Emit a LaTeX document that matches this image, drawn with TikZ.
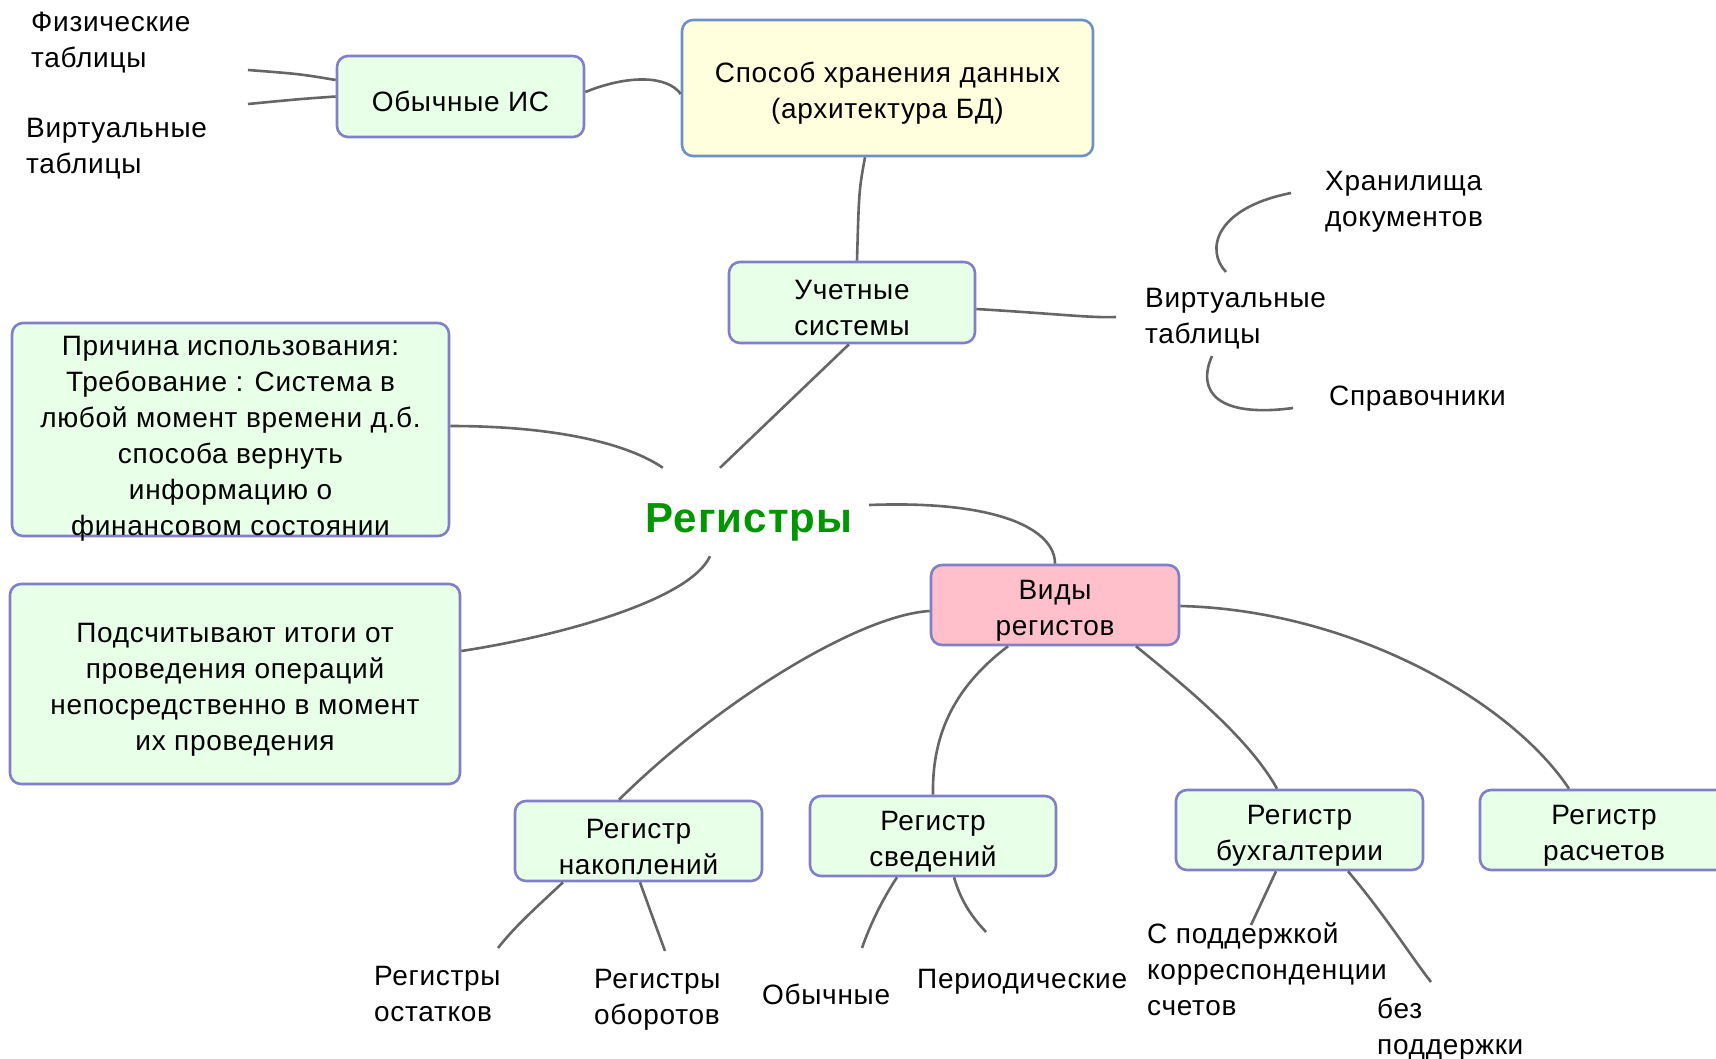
\documentclass[tikz,border=0pt]{standalone}
\usepackage{fontspec}
\setmainfont{Liberation Sans}[LetterSpace=2.5]
\definecolor{boxgreen}{RGB}{232,255,232}
\definecolor{boxblue}{RGB}{128,128,200}
\definecolor{yfill}{RGB}{255,255,222}
\definecolor{yborder}{RGB}{110,145,195}
\definecolor{pinkfill}{RGB}{255,192,204}
\definecolor{conngray}{RGB}{102,102,102}
\definecolor{reggreen}{RGB}{0,150,0}
\newcommand\firstlinestrut{\rule{0pt}{31pt}}
\begin{document}
\begin{tikzpicture}[x=1pt,y=-1pt,
  every node/.style={font=\fontsize{28}{36}\selectfont},
  box/.style={draw, line width=2.6pt, rounded corners=11pt, align=center, inner sep=0pt},
  gbox/.style={box, draw=boxblue, fill=boxgreen},
  lbl/.style={anchor=west, align=left, inner sep=0pt},
  conn/.style={draw=conngray, line width=2.6pt}
]
\useasboundingbox (0,0) rectangle (1716,1058);
\clip (0,0) rectangle (1716,1058);

% boxes
\node[box, draw=yborder, fill=yfill, minimum width=411pt, minimum height=136pt] (sposob) at (887.5,88) {\firstlinestrut Способ хранения данных\\(архитектура БД)};
\node[gbox, minimum width=247pt, minimum height=81pt] (obis) at (460.5,96.5) {\firstlinestrut Обычные ИС};
\node[gbox, minimum width=246pt, minimum height=81pt] (uch) at (852,302.5) {\firstlinestrut Учетные\\системы};
\node[gbox, minimum width=437pt, minimum height=213pt, text depth=0pt] (prich) at (230.5,429.5) {\firstlinestrut Причина использования:\\Требование : Система в\\любой момент времени д.б.\\способа вернуть\\информацию о\\финансовом состоянии};
\node[gbox, minimum width=450pt, minimum height=200pt] (podsch) at (235,684) {\firstlinestrut Подсчитывают итоги от\\проведения операций\\непосредственно в момент\\их проведения};
\node[box, draw=boxblue, fill=pinkfill, minimum width=248pt, minimum height=80pt] (vidy) at (1055,605) {\firstlinestrut Виды\\регистов};
\node[gbox, minimum width=247pt, minimum height=80pt] (nak) at (638.5,841) {\firstlinestrut Регистр\\накоплений};
\node[gbox, minimum width=246pt, minimum height=80pt] (sved) at (933,836) {\firstlinestrut Регистр\\сведений};
\node[gbox, minimum width=247pt, minimum height=80pt] (buh) at (1299.5,830) {\firstlinestrut Регистр\\бухгалтерии};
\node[gbox, minimum width=248pt, minimum height=80pt] (ras) at (1604,830) {\firstlinestrut Регистр\\расчетов};

% central topic
\node[font=\fontsize{42}{50}\selectfont\bfseries, text=reggreen, minimum width=240pt, minimum height=98pt, inner sep=0pt, text height=39pt] (reg) at (749,517) {Регистры};

% free labels
\node[lbl] (fiz) at (31,43) {Физические\\таблицы};
\node[lbl] (virtl) at (26,149) {Виртуальные\\таблицы};
\node[lbl] (virtr) at (1145,319) {Виртуальные\\таблицы};
\node[lbl] (hran) at (1325,202) {Хранилища\\документов};
\node[lbl] (sprav) at (1329,399) {Справочники};
\node[lbl] (ost) at (374,994) {Регистры\\остатков};
\node[lbl] (obor) at (594,1000) {Регистры\\оборотов};
\node[lbl] (obych) at (762,994) {Обычные};
\node[lbl] (period) at (917,982) {Периодические};
\node[lbl] (spodd) at (1147,969) {С поддержкой\\корреспонденции\\счетов};
\node[lbl] (bez) at (1377,1029) {без\\поддержки};

% free connector ends
\coordinate (eFiz) at (248,70);
\coordinate (eVirtL) at (248,104);
\coordinate (eVirtR) at (1116,317);
\coordinate (eHranA) at (1226,272);
\coordinate (eHranB) at (1291,193);
\coordinate (eSprA) at (1212,356);
\coordinate (eSprB) at (1293,408);
\coordinate (eOst) at (498,948);
\coordinate (eObor) at (665,951);
\coordinate (eObych) at (862,948);
\coordinate (ePeriod) at (986,932);
\coordinate (eSpodd) at (1251,925);
\coordinate (eBez) at (1431,982);

% connectors
\draw[conn] ([yshift=16.5pt]obis.west) .. controls (300,74) .. (eFiz);
\draw[conn] (obis.west) .. controls (300,99) .. (eVirtL);
\draw[conn] ([yshift=4.5pt]obis.east) .. controls (630,74) and (668,76) .. ([yshift=-6pt]sposob.west);
\draw[conn] ([xshift=-22.5pt]sposob.south) .. controls (859,190) .. ([xshift=5pt]uch.north);
\draw[conn] ([yshift=-6.5pt]uch.east) .. controls (1060,314) and (1090,318) .. (eVirtR);
\draw[conn] (eHranA) .. controls (1205,250) and (1215,208) .. (eHranB);
\draw[conn] (eSprA) .. controls (1196,392) and (1218,418) .. (eSprB);

\draw[conn] ([yshift=3.5pt]prich.east) .. controls (560,426) and (630,445) .. ([xshift=34pt]reg.north west);
\draw[conn] ([xshift=-29pt]reg.north) -- ([xshift=-3pt]uch.south);
\draw[conn] ([yshift=12pt]reg.east) .. controls (1000,500) and (1055,530) .. (vidy.north);
\draw[conn] ([xshift=-39pt,yshift=10pt]reg.south) .. controls (690,600) and (560,636) .. ([yshift=33pt]podsch.east);

\draw[conn] ([yshift=-6pt]vidy.west) .. controls (860,615) and (720,700) .. ([xshift=-19.5pt]nak.north);
\draw[conn] ([xshift=-47pt]vidy.south) .. controls (950,690) and (932,740) .. (sved.north);
\draw[conn] ([xshift=81pt]vidy.south) .. controls (1190,690) and (1250,740) .. ([xshift=-22.5pt]buh.north);
\draw[conn] ([yshift=-1pt]vidy.east) .. controls (1350,610) and (1510,700) .. ([xshift=-35pt]ras.north);

\draw[conn] ([xshift=-75.5pt]nak.south) .. controls (540,904) and (515,926) .. (eOst);
\draw[conn] ([xshift=1.5pt]nak.south) .. controls (650,910) .. (eObor);
\draw[conn] ([xshift=-36pt]sved.south) .. controls (882,900) and (870,925) .. (eObych);
\draw[conn] ([xshift=21pt]sved.south) .. controls (962,905) and (975,920) .. (ePeriod);
\draw[conn] ([xshift=-23.5pt]buh.south) .. controls (1265,895) .. (eSpodd);
\draw[conn] ([xshift=48.5pt]buh.south) .. controls (1385,915) and (1410,955) .. (eBez);
\end{tikzpicture}
\end{document}
